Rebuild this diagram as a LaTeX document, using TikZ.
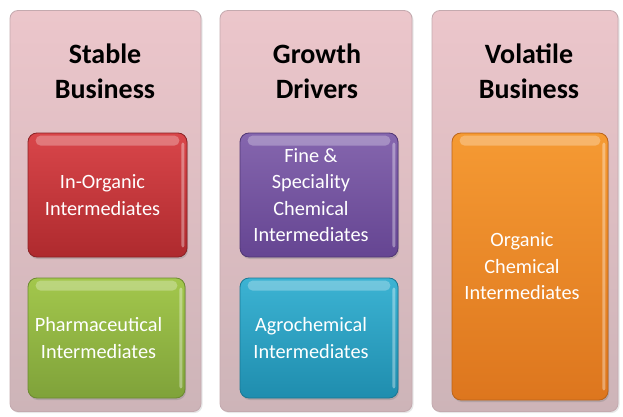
\documentclass[tikz,border=0pt]{standalone}
\usepackage{fontspec}
\setmainfont{Carlito}
\usetikzlibrary{shadows,calc}
\definecolor{panelTop}{HTML}{ECC6CB}
\definecolor{panelBot}{HTML}{CDB4B8}
\definecolor{panelEdge}{HTML}{C4AAAF}
\definecolor{redTop}{HTML}{D9464A}
\definecolor{redBot}{HTML}{AE2A2E}
\definecolor{greenTop}{HTML}{A3C74C}
\definecolor{greenBot}{HTML}{7FA23A}
\definecolor{purpTop}{HTML}{8566AE}
\definecolor{purpBot}{HTML}{654592}
\definecolor{tealTop}{HTML}{3CB3D3}
\definecolor{tealBot}{HTML}{1F8DAE}
\definecolor{orTop}{HTML}{F59A33}
\definecolor{orBot}{HTML}{DD761E}
\tikzset{
  panel/.style={rounded corners=8pt, draw=panelEdge, line width=0.8pt,
    top color=panelTop, bottom color=panelBot, inner sep=0pt,
    drop shadow={opacity=0.18, shadow xshift=1.5pt, shadow yshift=-1.5pt}},
  header/.style={font=\bfseries\fontsize{28}{35}\selectfont, align=center, text=black},
  gbox/.style={rounded corners=9pt, line width=0.8pt, inner sep=0pt,
    drop shadow={opacity=0.35, shadow xshift=1pt, shadow yshift=-2pt}},
  boxtext/.style={align=center, text=white, inner sep=0pt,
    font=\fontsize{20.3}{26.5}\selectfont},
  gloss/.style={white, opacity=0.28, rounded corners=5pt},
}
\begin{document}
\begin{tikzpicture}[x=1pt,y=-1pt]
\useasboundingbox (0,0) rectangle (623,417);
\fill[white] (0,0) rectangle (623,417);
% panels
\node[panel, minimum width=191pt, minimum height=401pt] (p1) at (105.5,211) {};
\node[panel, minimum width=192pt, minimum height=401pt] (p2) at (316,211) {};
\node[panel, minimum width=186pt, minimum height=401pt] (p3) at (525,211) {};
% headers
\node[header] (h1) at (105,71) {Stable\\Business};
\node[header] (h2) at (317,71) {Growth\\Drivers};
\node[header] (h3) at (529,71) {Volatile\\Business};
% boxes
\node[gbox, draw=redBot!80!black, top color=redTop, bottom color=redBot,
  minimum width=159pt, minimum height=124pt] (b1) at (107.5,195) {};
\node[gbox, draw=greenBot!85!black, top color=greenTop, bottom color=greenBot,
  minimum width=157pt, minimum height=120pt] (b2) at (106.5,338) {};
\node[gbox, draw=purpBot!80!black, top color=purpTop, bottom color=purpBot,
  minimum width=158pt, minimum height=124pt] (b3) at (319,195) {};
\node[gbox, draw=tealBot!85!black, top color=tealTop, bottom color=tealBot,
  minimum width=158pt, minimum height=120pt] (b4) at (319,338) {};
\node[gbox, draw=orBot!85!black, top color=orTop, bottom color=orBot,
  minimum width=156pt, minimum height=267pt] (b5) at (530,266.5) {};
% gloss highlights
\foreach \b in {b1,b2,b3,b4,b5}{
  \fill[gloss] ($(\b.north west)+(8,3)$) rectangle ($(\b.north east)+(-8,13)$);
  \fill[white, opacity=0.35, rounded corners=2pt] ($(\b.north east)+(-6,10)$) rectangle ($(\b.south east)+(-3,-10)$);
}
% texts
\node[boxtext] (t1) at ($(b1)+(-5,0)$) {In-Organic\\Intermediates};
\node[boxtext] (t2) at ($(b2)+(-8,0)$) {Pharmaceutical\\Intermediates};
\node[boxtext] (t3) at ($(b3)+(-8,0)$) {Fine \&\\Speciality\\Chemical\\Intermediates};
\node[boxtext] (t4) at ($(b4)+(-8,0)$) {Agrochemical\\Intermediates};
\node[boxtext] (t5) at ($(b5)+(-8,0)$) {Organic\\Chemical\\Intermediates};
\end{tikzpicture}
\end{document}
